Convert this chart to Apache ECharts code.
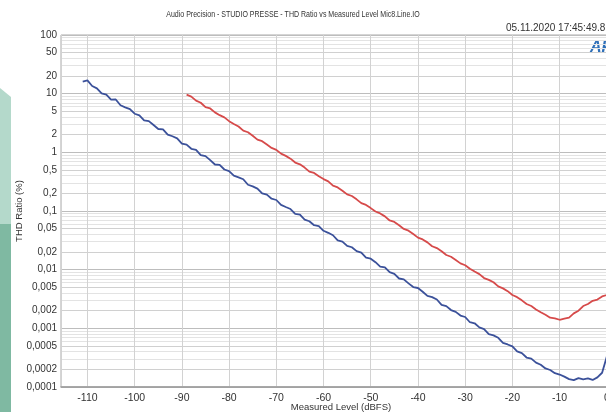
<!DOCTYPE html>
<html>
<head>
<meta charset="utf-8">
<script src="https://cdn.jsdelivr.net/npm/echarts@6/dist/echarts.min.js"></script>
<style>
html, body { margin: 0; padding: 0; background: #fff; overflow: hidden; }
/* the AP plot runs past the right edge of the page, so the chart is wider than the window */
#thdChart { width: 621px; height: 412px; }
</style>
</head>
<body>
<div id="thdChart"></div>
<script>
// THD ratio (%) vs measured level (dBFS), 1 dB steps
var blueStart = -111;
var blueThd = [
    16.0, 16.8, 13.5, 12.3, 10.1, 9.6, 7.9, 7.95, 6.35, 5.85,
    5.45, 4.55, 4.25, 3.5, 3.4, 2.92, 2.5, 2.46, 2.0, 1.88,
    1.73, 1.41, 1.35, 1.15, 1.10, 0.90, 0.86, 0.735, 0.62, 0.61,
    0.51, 0.478, 0.40, 0.375, 0.348, 0.28, 0.263, 0.241, 0.199, 0.19,
    0.162, 0.154, 0.127, 0.117, 0.108, 0.089, 0.0867, 0.0714, 0.0669, 0.0572,
    0.0552, 0.046, 0.0425, 0.0386, 0.0315, 0.0301, 0.0255, 0.0241, 0.0207, 0.0195,
    0.016, 0.0154, 0.0134, 0.0113, 0.0109, 0.0091, 0.0085, 0.00707, 0.00682, 0.00584,
    0.00505, 0.00487, 0.00421, 0.00357, 0.00341, 0.0031, 0.00252, 0.00239, 0.00205, 0.00191,
    0.00165, 0.00156, 0.00127, 0.00122, 0.00104, 0.000973, 0.0008, 0.000758, 0.000689, 0.000567,
    0.000531, 0.000492, 0.000405, 0.000379, 0.000318, 0.000304, 0.00026, 0.000239, 0.000207, 0.000195,
    0.000172, 0.000163, 0.00015, 0.000136, 0.000131, 0.000142, 0.000135, 0.00014, 0.000132, 0.000146,
    0.000175, 0.00033, 0.0009
];
var redStart = -89;
var redThd = [
    9.6, 8.9, 7.6, 7.0, 5.9, 5.6, 4.8, 4.3, 3.95, 3.4,
    3.05, 2.75, 2.35, 2.2, 1.92, 1.65, 1.55, 1.36, 1.19, 1.1,
    0.95, 0.87, 0.78, 0.67, 0.625, 0.55, 0.47, 0.445, 0.39, 0.35,
    0.32, 0.27, 0.252, 0.222, 0.192, 0.18, 0.158, 0.136, 0.127, 0.112,
    0.098, 0.091, 0.081, 0.069, 0.065, 0.057, 0.0495, 0.0462, 0.0405, 0.0352,
    0.0328, 0.0292, 0.0251, 0.0233, 0.0206, 0.0178, 0.0166, 0.0146, 0.0128, 0.0119,
    0.0104, 0.0093, 0.0084, 0.0072, 0.0067, 0.0061, 0.0052, 0.0048, 0.0043, 0.0037,
    0.0034, 0.003, 0.0026, 0.0024, 0.0021, 0.00188, 0.0017, 0.00152, 0.00148, 0.0014,
    0.00146, 0.00152, 0.0018, 0.002, 0.0024, 0.0026, 0.00295, 0.0031, 0.0035, 0.0037,
    0.004, 0.0044
];
var yLabels = [0.0001, 0.0002, 0.0005, 0.001, 0.002, 0.005, 0.01, 0.02, 0.05,
    0.1, 0.2, 0.5, 1, 2, 5, 10, 20, 50, 100];
var decades = [0.0001, 0.001, 0.01, 0.1, 1, 10];
var xLevelMin = -115.6;
var xLevelMax = 3;

// gridlines at 1..9 of every decade
var yGrid = [];
decades.forEach(function (d) {
    for (var k = 1; k <= 9; k++) yGrid.push(+(d * k).toPrecision(3));
});
yGrid.push(100);
var gridColors = ['#bdbdbd', '#d0d0d0', '#e3e3e3', '#e3e3e3', '#d0d0d0', '#e3e3e3', '#e3e3e3', '#e3e3e3', '#e3e3e3'];

function pairs(start, vals) {
    return vals.map(function (v, i) { return [start + i, v]; });
}

var chart = echarts.init(document.getElementById('thdChart'), null, {renderer: 'canvas'});
var font = 'Liberation Sans, Arial, sans-serif';

chart.setOption({
    animation: false,
    backgroundColor: '#fff',
    graphic: [
        {type: 'polygon', shape: {points: [[0, 88], [11, 97], [11, 224], [0, 224]]}, style: {fill: '#b4d9cb'}},
        {type: 'rect', shape: {x: 0, y: 224, width: 11, height: 188}, style: {fill: '#7fb9a2'}},
        // AP title font is a narrow one, squeeze Liberation Sans to the same width
        {type: 'text', x: 293, y: 14, scaleX: 0.74, style: {
            text: 'Audio Precision - STUDIO PRESSE - THD Ratio vs Measured Level Mic8.Line.IO',
            align: 'center', verticalAlign: 'middle', fill: '#333',
            font: '9.5px "Liberation Sans", Arial, sans-serif'}},
        {type: 'text', x: 506, y: 28, style: {
            text: '05.11.2020 17:45:49.8', verticalAlign: 'middle', fill: '#333',
            font: '10px "Liberation Sans", Arial, sans-serif'}},
        {type: 'text', x: 590, y: 40, style: {text: 'AP', fill: '#2e6fb8', font: 'italic bold 16px "Liberation Sans"'}}
    ],
    grid: {
        left: 61, right: 0, top: 35, bottom: 25, outerBoundsMode: 'none',
        show: true, borderColor: '#aaa', borderWidth: 1
    },
    xAxis: {
        type: 'value', min: xLevelMin, max: xLevelMax, splitNumber: 12,
        name: 'Measured Level (dBFS)', nameLocation: 'middle', nameGap: 15, nameMoveOverlap: false,
        nameTextStyle: {fontFamily: font, fontSize: 9.5, color: '#333'},
        axisLine: {lineStyle: {color: '#999', width: 1.5}},
        axisTick: {show: false},
        axisLabel: {fontFamily: font, fontSize: 10.5, color: '#333', margin: 6, showMinLabel: false, showMaxLabel: false},
        splitLine: {lineStyle: {color: '#d2d2d2'}}
    },
    yAxis: {
        type: 'log', logBase: 10, min: 0.0001, max: 100,
        name: 'THD Ratio (%)', nameLocation: 'middle', nameGap: 37, nameRotate: 90, nameMoveOverlap: false,
        nameTextStyle: {fontFamily: font, fontSize: 9.5, color: '#333'},
        axisLine: {show: true, lineStyle: {color: '#999'}},
        axisTick: {show: false, customValues: yGrid},
        axisLabel: {
            fontFamily: font, fontSize: 10, color: '#333', margin: 4,
            customValues: yLabels, showMinLabel: true, showMaxLabel: true,
            formatter: function (v) { return String(v).replace('.', ','); }
        },
        splitLine: {lineStyle: {color: gridColors}}
    },
    series: [{
        type: 'line', showSymbol: false, data: pairs(blueStart, blueThd),
        lineStyle: {color: '#3b519a', width: 1.8}
    }, {
        type: 'line', showSymbol: false, data: pairs(redStart, redThd),
        lineStyle: {color: '#d64a4a', width: 1.8}
    }]
});
</script>
</body>
</html>
